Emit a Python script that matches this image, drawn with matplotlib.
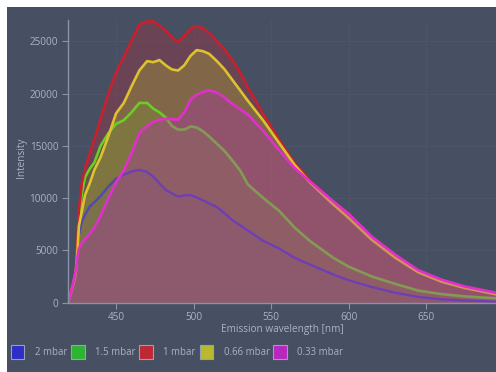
import matplotlib
matplotlib.use("Agg")
import matplotlib.pyplot as plt
from matplotlib.patches import Rectangle, Patch

plt.rcParams["font.family"] = ["Open Sans", "DejaVu Sans"]

# Emission spectra at several pressures
wavelength = [419, 421, 422.5, 424, 425, 426, 428, 430, 433, 436, 440, 445, 450, 455,
              460, 465, 470, 474, 478, 482, 486, 490, 494, 498, 502, 506, 510, 515,
              520, 525, 530, 535, 545, 555, 565, 575, 590, 600, 615, 630, 645, 660,
              675, 695]

i_2mbar = [0, 1000, 1800, 2700, 4500, 6500, 7800, 8400, 9200, 9600, 10200, 11100, 11850,
           12250, 12550, 12700, 12500, 12050, 11400, 10800, 10450, 10150, 10250, 10300,
           10050, 9800, 9500, 9150, 8550, 7900, 7400, 6900, 5900, 5200, 4300, 3650, 2700,
           2150, 1500, 950, 550, 320, 200, 100]

i_1p5mbar = [0, 1100, 2000, 2900, 5200, 8000, 10500, 12000, 12800, 13400, 15000, 16200,
             17100, 17450, 18200, 19100, 19100, 18550, 18200, 17700, 16900, 16550, 16550,
             16850, 16750, 16400, 15900, 15200, 14500, 13600, 12650, 11300, 10000, 8800,
             7200, 5900, 4300, 3450, 2500, 1800, 1150, 820, 600, 420]

i_1mbar = [0, 1200, 2000, 2800, 5700, 8800, 11500, 12800, 14300, 15600, 17600, 20000,
           22000, 23500, 25100, 26600, 26900, 26900, 26500, 26000, 25400, 24950, 25500,
           26200, 26450, 26250, 25800, 25000, 24200, 23200, 22000, 20600, 18000, 15600,
           13400, 11700, 9600, 8300, 6200, 4500, 3000, 2100, 1450, 850]

i_0p66mbar = [0, 1000, 1800, 2800, 4700, 7300, 8800, 10300, 11400, 12700, 13900, 15900,
              18100, 19100, 20700, 22200, 23100, 23000, 23200, 22700, 22300, 22200, 22700,
              23600, 24150, 24050, 23800, 23100, 22300, 21300, 20300, 19300, 17400, 15300,
              13200, 11500, 9400, 8100, 6000, 4300, 2900, 2000, 1400, 800]

i_0p33mbar = [0, 1000, 2000, 3100, 4300, 5200, 5700, 6100, 6600, 7200, 8300, 10000,
              11500, 12700, 14300, 16200, 16900, 17300, 17500, 17600, 17550, 17500, 18200,
              19400, 19900, 20150, 20300, 20100, 19600, 19000, 18500, 18000, 16400, 14600,
              12900, 11600, 9700, 8500, 6300, 4600, 3100, 2200, 1550, 950]

labels = ["2 mbar", "1.5 mbar", "1 mbar", "0.66 mbar", "0.33 mbar"]
series = [i_2mbar, i_1p5mbar, i_1mbar, i_0p66mbar, i_0p33mbar]

x_ticks = [450, 500, 550, 600, 650]
y_ticks = [0, 5000, 10000, 15000, 20000, 25000]

# styling
bg = "#474f63"
text_col = "#aab2c3"
axis_col = "#8a92a6"
grid_col = "#4c546a"
fill_cols = ["#2d2dc8", "#2db432", "#be2832", "#b9b92d", "#b928be"]
line_cols = ["#5048b4", "#6ccc28", "#c8202c", "#dcc22c", "#e030cc"]
line_w = [1.7, 1.9, 1.9, 1.9, 1.9]
# layering: the first four fills sit below their outlines, the last trace on top
fill_z = [2, 3, 4, 5, 10]
line_z = [6, 7, 8, 9, 11]

W, H = 496, 372
fig = plt.figure(figsize=(W / 100, H / 100), dpi=100, facecolor="white")
fig.patches.append(Rectangle((7 / W, 0), 1 - 7 / W, 1 - 7 / H, transform=fig.transFigure,
                             facecolor=bg, edgecolor="none", zorder=-5))

ax = fig.add_axes([68 / W, 1 - 302.7 / H, 428 / W, (302.7 - 20) / H])
ax.set_facecolor(bg)
ax.patch.set_alpha(0)

for k, vals in enumerate(series):
    ax.fill_between(wavelength, 0, vals, color=fill_cols[k], alpha=0.3, linewidth=0,
                    zorder=fill_z[k])
    ax.plot(wavelength, vals, color=line_cols[k], linewidth=line_w[k], zorder=line_z[k],
            solid_joinstyle="round")

ax.set_xlim(419, 695)
ax.set_ylim(0, 27030)
ax.set_xticks(x_ticks)
ax.set_yticks(y_ticks)
ax.set_yticklabels([str(v) for v in y_ticks])
ax.grid(True, color=grid_col, linewidth=0.8, zorder=1)
ax.set_axisbelow(True)

for side in ["top", "right"]:
    ax.spines[side].set_visible(False)
for side in ["left", "bottom"]:
    ax.spines[side].set_color(axis_col)
    ax.spines[side].set_linewidth(1.0)
    ax.spines[side].set_zorder(20)

ax.tick_params(axis="both", colors=axis_col, labelcolor=text_col, labelsize=7.2,
               length=4, width=0.8, pad=3)

ax.set_xlabel("Emission wavelength [nm]", color=text_col, fontsize=7.2)
ax.set_ylabel("Intensity", color=text_col, fontsize=7.2)
ax.xaxis.set_label_coords((282 - 68) / 428, -(324 - 302.7) / (302.7 - 20))
ax.yaxis.set_label_coords(-(68 - 27) / 428, (302.7 - 158) / (302.7 - 20))

handles = [Patch(facecolor=c, edgecolor="#9aa0b4", linewidth=0.8) for c in fill_cols]
leg = fig.legend(handles, labels, loc="center left", bbox_to_anchor=(11 / W, 20 / H),
                 ncol=5, frameon=False, fontsize=6.9, labelcolor=text_col,
                 handlelength=1.4, handleheight=1.85, handletextpad=1.1,
                 columnspacing=0.4, borderaxespad=0, borderpad=0)

fig.savefig("out.png", dpi=100, facecolor="white")
